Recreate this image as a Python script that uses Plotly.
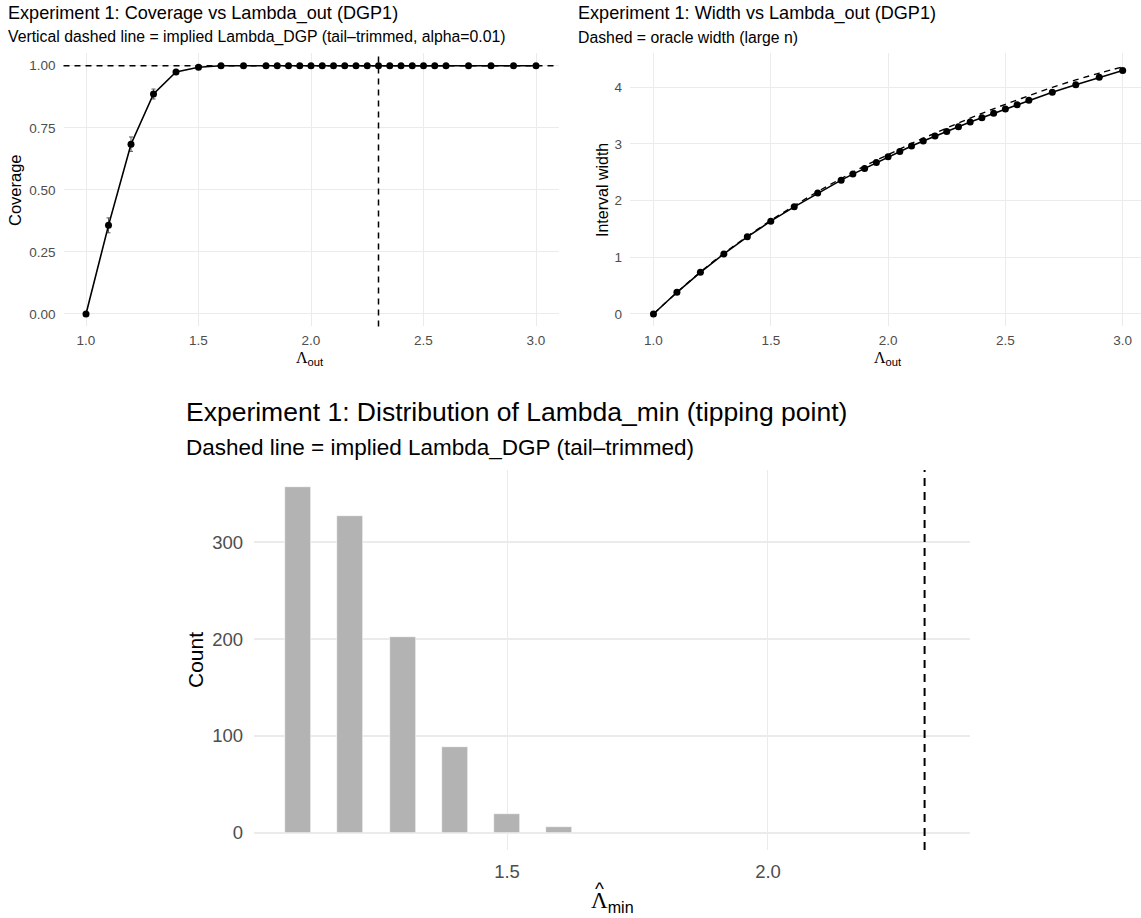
import plotly.graph_objects as go

# ---------------- data ----------------
lambda_grid = [1.0, 1.1, 1.2, 1.3, 1.4, 1.5, 1.6, 1.7, 1.8, 1.85, 1.9, 1.95, 2.0, 2.05,
               2.1, 2.15, 2.2, 2.25, 2.3, 2.35, 2.4, 2.45, 2.5, 2.55, 2.6, 2.7, 2.8, 2.9, 3.0]
coverage = [0.0, 0.357, 0.684, 0.886, 0.975, 0.994, 1.0, 1.0, 1.0, 1.0, 1.0, 1.0, 1.0, 1.0,
            1.0, 1.0, 1.0, 1.0, 1.0, 1.0, 1.0, 1.0, 1.0, 1.0, 1.0, 1.0, 1.0, 1.0, 1.0]
coverage_err = [0.0, 0.030, 0.029, 0.020, 0.010, 0.005, 0.0, 0.0, 0.0, 0.0, 0.0, 0.0, 0.0, 0.0,
                0.0, 0.0, 0.0, 0.0, 0.0, 0.0, 0.0, 0.0, 0.0, 0.0, 0.0, 0.0, 0.0, 0.0, 0.0]
interval_width = [0.0, 0.383, 0.736, 1.060, 1.361, 1.638, 1.891, 2.133, 2.362, 2.468, 2.568,
                  2.675, 2.775, 2.869, 2.963, 3.052, 3.140, 3.222, 3.305, 3.387, 3.464, 3.541,
                  3.617, 3.694, 3.770, 3.912, 4.047, 4.177, 4.295]
oracle_lambda = [1.0, 1.1, 1.2, 1.3, 1.4, 1.5, 1.6, 1.7, 1.8, 1.9, 2.0, 2.1, 2.2, 2.3, 2.4,
                 2.5, 2.6, 2.7, 2.8, 2.9, 3.0]
oracle_width = [0.0, 0.38, 0.74, 1.07, 1.37, 1.65, 1.91, 2.16, 2.39, 2.61, 2.81, 3.01, 3.19,
                3.37, 3.54, 3.70, 3.85, 4.00, 4.13, 4.25, 4.36]
hist_centers = [1.1, 1.2, 1.3, 1.4, 1.5, 1.6]
hist_counts = [357, 327, 202, 89, 19, 6]
bin_width = 0.05
lambda_dgp = 2.3
nominal = 1.0

x_ticks_top = [1.0, 1.5, 2.0, 2.5, 3.0]
x_ticklabels_top = ["1.0", "1.5", "2.0", "2.5", "3.0"]
cov_ticks = [0.0, 0.25, 0.5, 0.75, 1.0]
cov_ticklabels = ["0.00", "0.25", "0.50", "0.75", "1.00"]
width_ticks = [0, 1, 2, 3, 4]
hist_xticks = [1.5, 2.0]
hist_xticklabels = ["1.5", "2.0"]
hist_yticks = [0, 100, 200, 300]

# ---------------- figure ----------------
W, H = 1141, 918
FONT = "Liberation Sans, Arial, Helvetica, sans-serif"
SERIF = "Liberation Serif, Times New Roman, serif"
GRID = "#EBEBEB"
TICKC = "#4D4D4D"

def px(x):
    return x / W

def py(y):
    return 1 - y / H

fig = go.Figure()

# Top-left: coverage
fig.add_trace(go.Scatter(
    x=lambda_grid, y=coverage, mode="lines+markers",
    line=dict(color="black", width=1.6),
    marker=dict(color="black", size=7),
    error_y=dict(type="data", array=coverage_err, color="#555555", thickness=1, width=2),
    xaxis="x", yaxis="y", showlegend=False))

# Top-right: width + oracle
fig.add_trace(go.Scatter(
    x=oracle_lambda, y=oracle_width, mode="lines",
    line=dict(color="black", width=1.4, dash="6px,5px", shape="spline"),
    xaxis="x2", yaxis="y2", showlegend=False))
fig.add_trace(go.Scatter(
    x=lambda_grid, y=interval_width, mode="lines+markers",
    line=dict(color="black", width=1.6),
    marker=dict(color="black", size=7),
    xaxis="x2", yaxis="y2", showlegend=False))

# Bottom: histogram
fig.add_trace(go.Bar(
    x=hist_centers, y=hist_counts, width=[bin_width] * len(hist_centers),
    marker=dict(color="#B3B3B3", line=dict(color="white", width=0.6)),
    xaxis="x3", yaxis="y3", showlegend=False))

# reference lines
fig.add_shape(type="line", xref="x domain", yref="y", x0=0, x1=1, y0=nominal, y1=nominal,
              line=dict(color="black", width=1.5, dash="6px,5px"))
fig.add_shape(type="line", xref="x", yref="y domain", x0=lambda_dgp, x1=lambda_dgp, y0=0, y1=1,
              line=dict(color="black", width=1.5, dash="6px,5px"))
fig.add_shape(type="line", xref="x3", yref="y3 domain", x0=lambda_dgp, x1=lambda_dgp, y0=0, y1=1,
              line=dict(color="black", width=2, dash="8px,6px"))

def axis(domain, rng, tickvals, ticktext, size, anchor, width, standoff):
    return dict(domain=domain, range=rng, tickvals=tickvals, ticktext=ticktext,
                showgrid=True, gridcolor=GRID, gridwidth=width, zeroline=False,
                showline=False, ticks="", anchor=anchor, ticklabelstandoff=standoff,
                tickfont=dict(family=FONT, size=size, color=TICKC))

top_dom = [py(326.4), py(53.3)]
fig.update_layout(
    width=W, height=H, margin=dict(l=0, r=0, t=0, b=0),
    paper_bgcolor="white", plot_bgcolor="white",
    font=dict(family=FONT, color="black"),
    bargap=0,
    xaxis=axis([px(63.5), px(558.5)], [0.9, 3.1], x_ticks_top, x_ticklabels_top, 13.5, "y", 1.3, 4),
    yaxis=axis(top_dom, [-0.05, 1.05], cov_ticks, cov_ticklabels, 13.5, "x", 1.3, 7),
    xaxis2=axis([px(630), 1.0], [0.9, 3.078], x_ticks_top, x_ticklabels_top, 13.5, "y2", 1.3, 4),
    yaxis2=axis(top_dom, [-0.219, 4.60], width_ticks, [str(v) for v in width_ticks], 13.5, "x2", 1.3, 7),
    xaxis3=axis([px(254), px(970)], [1.0153, 2.387], hist_xticks, hist_xticklabels, 18.5, "y3", 1.2, 8),
    yaxis3=axis([py(850), py(470)], [-17.85, 374.85], hist_yticks, [str(v) for v in hist_yticks], 18.5, "x3", 1.8, 10),
)

def ann(text, x, y, size, color="black", xanchor="left", yanchor="middle", angle=0, family=FONT):
    fig.add_annotation(text=text, x=px(x), y=py(y), xref="paper", yref="paper",
                       showarrow=False, xanchor=xanchor, yanchor=yanchor, textangle=angle,
                       font=dict(family=family, size=size, color=color))

LAM = "<span style='font-family:Liberation Serif, Times New Roman, serif'>\u039b</span>"

# titles
ann("Experiment 1: Coverage vs Lambda_out (DGP1)", 6, 13, 18.1)
ann("Vertical dashed line = implied Lambda_DGP (tail\u2013trimmed, alpha=0.01)", 6, 37, 15.8)
ann("Experiment 1: Width vs Lambda_out (DGP1)", 576, 13, 18.1)
ann("Dashed = oracle width (large n)", 576, 37, 15.8)
ann("Experiment 1: Distribution of Lambda_min (tipping point)", 184, 412, 26.5)
ann("Dashed line = implied Lambda_DGP (tail\u2013trimmed)", 184, 447, 22.5)

# axis titles
ann("Coverage", 15, 190, 16.5, xanchor="center", angle=-90)
ann("Interval width", 602, 190, 16, xanchor="center", angle=-90)
ann(LAM + "<sub>out</sub>", 310, 358, 16, xanchor="center")
ann(LAM + "<sub>out</sub>", 888, 358, 16, xanchor="center")
ann("Count", 195, 660, 21, xanchor="center", angle=-90)
ann(LAM + "<sub>min</sub>", 612, 902, 23, xanchor="center")
ann("^", 599, 888, 19, xanchor="center")

# remove the page's default 8px body margin so the figure sits at the top-left corner
fig.write_html("out.html", config={"displayModeBar": False},
               post_script="document.body.style.margin='0px';")
